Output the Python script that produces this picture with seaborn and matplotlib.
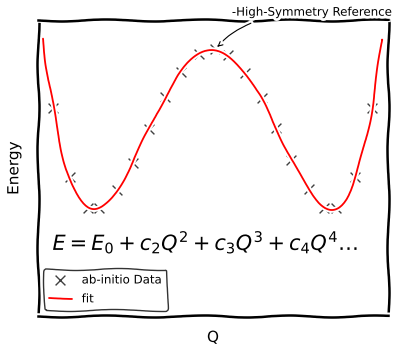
import numpy as np
import pandas as pd
import matplotlib
matplotlib.use("Agg")
import matplotlib.pyplot as plt
import seaborn as sns

# ab-initio energies along the distortion coordinate Q
q_data = [-1.359, -1.214, -1.060, -0.966, -0.812, -0.675, -0.538, -0.402, -0.265,
          -0.111, 0.026, 0.137, 0.282, 0.427, 0.547, 0.675, 0.829, 0.957,
          1.060, 1.222, 1.368]
e_data = [-0.362, -0.794, -0.990, -0.990, -0.875, -0.706, -0.494, -0.294, -0.138,
          -0.025, 0.006, -0.031, -0.144, -0.300, -0.488, -0.688, -0.869, -0.990,
          -0.990, -0.794, -0.362]

fit_range = (-1.444, 1.453)
peak = (0.026, 0.006)

sns.set_theme(style="white")
plt.xkcd()
plt.rcParams["font.family"] = ["DejaVu Sans"]
plt.rcParams["mathtext.fontset"] = "dejavusans"
plt.rcParams["text.color"] = "black"
plt.rcParams["axes.labelcolor"] = "black"

# polynomial expansion fitted to the computed points
coeffs = np.polyfit(q_data, e_data, 4)
q_fit = np.linspace(*fit_range, 300)
fit_df = pd.DataFrame({"Q": q_fit, "E": np.polyval(coeffs, q_fit)})
data_df = pd.DataFrame({"Q": q_data, "E": e_data})

fig = plt.figure(figsize=(3.94, 3.46), dpi=100)
ax = fig.add_axes([0.0964, 0.0867, 0.8883, 0.855])

sns.scatterplot(data=data_df, x="Q", y="E", marker="x", s=50, color="0.25",
                linewidth=1.0, ax=ax, label="ab-initio Data", zorder=2)
sns.lineplot(data=fit_df, x="Q", y="E", color="red", linewidth=1.3, ax=ax,
             label="fit", zorder=3)

ax.set_xlim(-1.487, 1.504)
ax.set_ylim(-1.6625, 0.1875)
ax.set_xticks([])
ax.set_yticks([])
for sp in ax.spines.values():
    sp.set_visible(True)
    sp.set_color("black")
    sp.set_linewidth(1.8)

ax.set_xlabel("Q", fontsize=11, labelpad=10)
ax.set_ylabel("Energy", fontsize=11, labelpad=12)

ax.text(0.48, 0.25, r"$E = E_0 + c_2Q^2 + c_3Q^3 + c_4Q^4 \ldots$",
        transform=ax.transAxes, ha="center", va="center", fontsize=15)

ax.annotate("-High-Symmetry Reference", xy=peak, xycoords="data",
            xytext=(0.554, 1.027), textcoords="axes fraction",
            ha="left", va="center", fontsize=8.5,
            arrowprops=dict(arrowstyle="->", color="black", lw=0.8,
                            relpos=(0.18, 0.0),
                            connectionstyle="arc3,rad=0.1"))

leg = ax.legend(loc="lower left", fontsize=8.5, frameon=True)
leg.get_frame().set_edgecolor("black")

fig.savefig("out.png", dpi=100)
